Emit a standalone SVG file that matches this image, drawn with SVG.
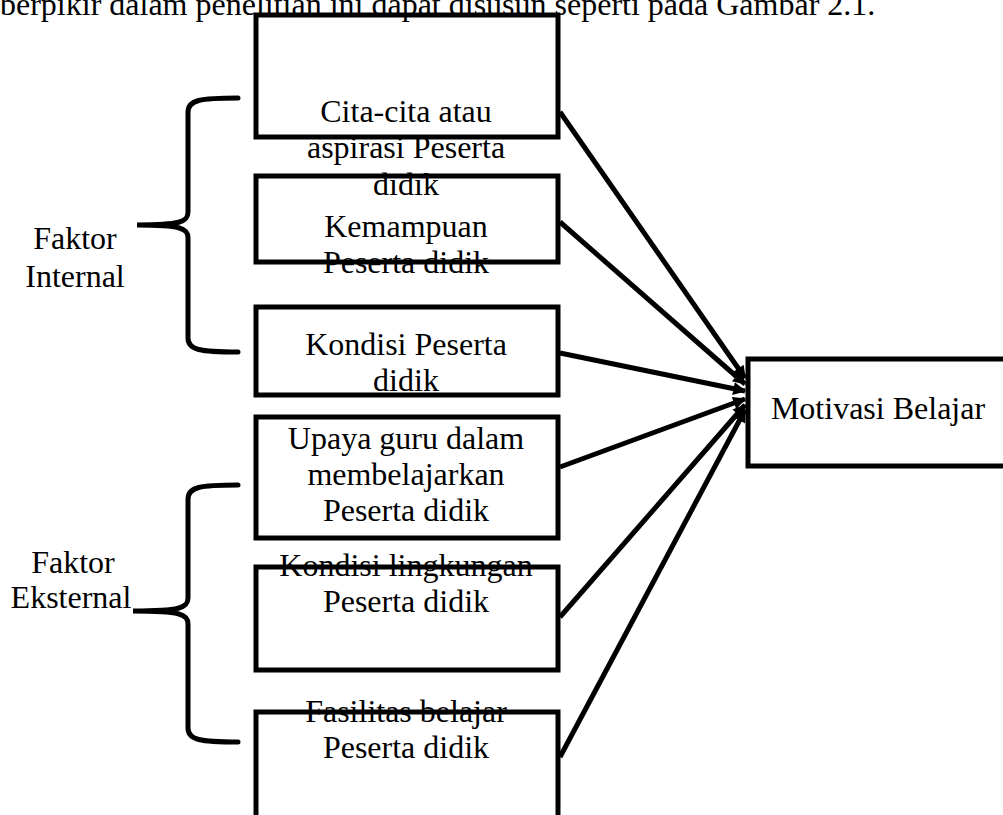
<svg xmlns="http://www.w3.org/2000/svg" width="1003" height="815" viewBox="0 0 1003 815">
<style>
  .t { font-family: "Liberation Serif", "Times New Roman", serif; font-size: 32px; fill: #000; }
  .c { text-anchor: middle; }
  .box { fill: none; stroke: #000; stroke-width: 5; }
  .br { fill: none; stroke: #000; stroke-width: 5; stroke-linecap: round; }
  .ln { stroke: #000; stroke-width: 5; fill: none; marker-end: url(#ah); }
</style>
<defs>
  <marker id="ah" viewBox="0 0 10 10" refX="9" refY="5" markerWidth="15" markerHeight="13" markerUnits="userSpaceOnUse" orient="auto">
    <path d="M0,0 L10,5 L0,10 z" fill="#000"/>
  </marker>
</defs>
<rect width="1003" height="815" fill="#fff"/>
<text class="t" x="0" y="15">berpikir dalam penelitian ini dapat disusun seperti pada Gambar 2.1.</text>

<g id="connectors">
  <line class="ln" x1="560" y1="112" x2="745" y2="378"/>
  <line class="ln" x1="560" y1="222" x2="745" y2="384"/>
  <line class="ln" x1="560" y1="353" x2="745" y2="391"/>
  <line class="ln" x1="560" y1="467" x2="745" y2="399"/>
  <line class="ln" x1="560" y1="617" x2="745" y2="405"/>
  <line class="ln" x1="560" y1="757" x2="745" y2="410"/>
</g>

<g id="bracket-internal">
  <path class="br" d="M238,98 C200,98 188,100 188,112 L188,212 C188,222 180,225 137,225 C180,225 188,228 188,238 L188,338 C188,350 200,352 238,352"/>
  <text class="t c" x="75" y="249">Faktor</text>
  <text class="t c" x="75" y="287">Internal</text>
</g>

<g id="bracket-eksternal">
  <path class="br" d="M238,485 C200,485 188,487 188,499 L188,598 C188,608 180,611 133,611 C180,611 188,614 188,624 L188,728 C188,740 200,742 238,742"/>
  <text class="t c" x="73" y="573">Faktor</text>
  <text class="t c" x="71" y="608">Eksternal</text>
</g>

<g id="node-cita">
  <rect class="box" x="256" y="15" width="302" height="122"/>
  <text class="t c" x="406" y="122">Cita-cita atau</text>
  <text class="t c" x="406" y="158">aspirasi Peserta</text>
  <text class="t c" x="406" y="195">didik</text>
</g>

<g id="node-kemampuan">
  <rect class="box" x="256" y="176" width="302" height="86"/>
  <text class="t c" x="406" y="237">Kemampuan</text>
  <text class="t c" x="406" y="273">Peserta didik</text>
</g>

<g id="node-kondisi">
  <rect class="box" x="256" y="307" width="302" height="88"/>
  <text class="t c" x="406" y="355">Kondisi Peserta</text>
  <text class="t c" x="406" y="391">didik</text>
</g>

<g id="node-upaya">
  <rect class="box" x="256" y="417" width="302" height="121"/>
  <text class="t c" x="406" y="449">Upaya guru dalam</text>
  <text class="t c" x="406" y="485">membelajarkan</text>
  <text class="t c" x="406" y="521">Peserta didik</text>
</g>

<g id="node-lingkungan">
  <rect class="box" x="256" y="567" width="302" height="103"/>
  <text class="t c" x="406" y="576">Kondisi lingkungan</text>
  <text class="t c" x="406" y="612">Peserta didik</text>
</g>

<g id="node-fasilitas">
  <rect class="box" x="256" y="712" width="302" height="112"/>
  <text class="t c" x="406" y="722">Fasilitas belajar</text>
  <text class="t c" x="406" y="758">Peserta didik</text>
</g>

<g id="node-motivasi">
  <rect class="box" x="748" y="359" width="270" height="107"/>
  <text class="t c" x="878" y="419">Motivasi Belajar</text>
</g>
</svg>
